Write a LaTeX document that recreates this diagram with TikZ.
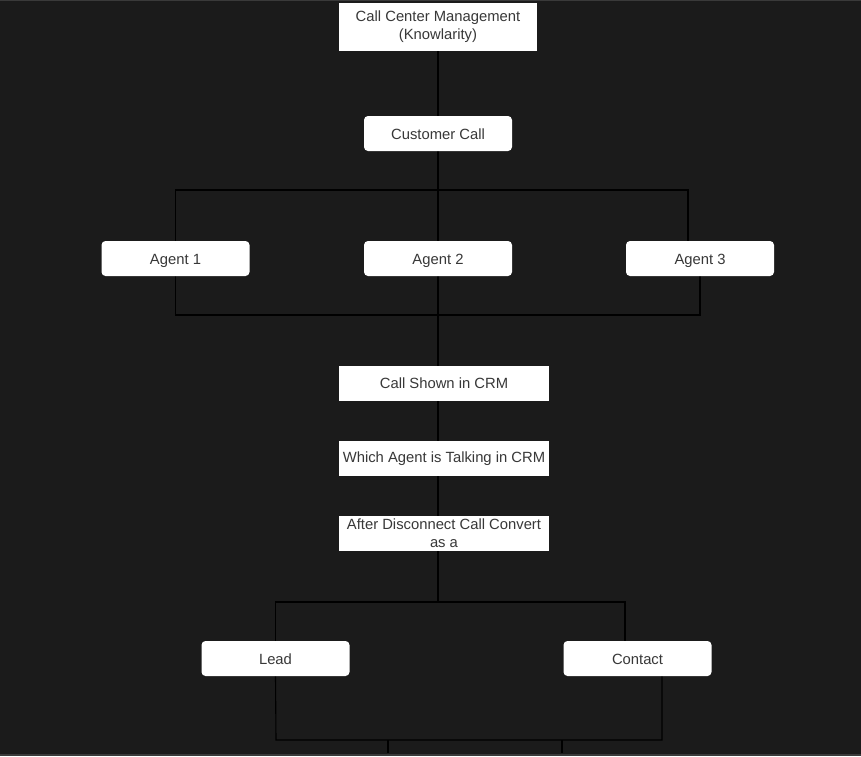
\documentclass[tikz,border=0pt]{standalone}
\usepackage{fontspec}
\setmainfont{Liberation Sans}
\usetikzlibrary{backgrounds}
\definecolor{canvas}{HTML}{1B1B1B}
\definecolor{edgegray}{HTML}{3A3A3A}
\definecolor{boxtext}{HTML}{383838}
\tikzset{
  flatbox/.style={fill=white, text=boxtext, align=center, inner sep=0pt,
    minimum width=#1, minimum height=35, font=\fontsize{14.8}{18}\selectfont},
  flatbox/.default=210,
  softbox/.style={flatbox=148, rounded corners=4, text height=12, text depth=1},
  wire/.style={black, line width=1.1pt}
}
\begin{document}
\begin{tikzpicture}[x=1pt, y=-1pt]
\useasboundingbox (0,0) rectangle (861,756);

% Top of the flow
\node[flatbox=198, minimum height=48] (ccm) at (438,27) {Call Center Management\\(Knowlarity)};
\node[softbox] (call) at (438,133.5) {Customer Call};

% Agents
\foreach \x/\n in {175.5/1, 438/2, 700/3} {
    \node[softbox] (agent\n) at (\x,258.5) {Agent \n};
}

% CRM steps
\node[flatbox] (shown) at (444,383.5) {Call Shown in CRM};
\node[flatbox] (talk) at (444,458.5) {Which Agent is Talking in CRM};
\node[flatbox] (conv) at (444,533.5) {After Disconnect Call Convert\\as a};

% Results
\node[softbox] (lead) at (275.5,658.5) {Lead};
\node[softbox] (contact) at (637.5,658.5) {Contact};

% Canvas and connectors behind the boxes
\coordinate (split) at (438,602);
\coordinate (foot) at (276,740);
\begin{scope}[on background layer]
\fill[canvas] (0,0) rectangle (861,756);
\draw[edgegray, line width=1.5pt] (0,0.5) -- (861,0.5);
\draw[edgegray, line width=2pt] (0,755) -- (861,755);
\draw[wire] (ccm.south) -- (call.north);
\draw[wire] (call.south) -- (split);
\draw[wire] (agent1.north) |- (438,190) -| (688,241);
\draw[wire] (agent1.south) |- (700,315) -- (agent3.south);
\draw[wire] (lead.north) |- (split) -| (625,641);
\draw[wire] (lead.south) -- (foot) -- (662,740) -- (662,676);
\foreach \x in {388, 562} {
    \draw[wire] (\x,740) -- (\x,753);
}
\end{scope}

\end{tikzpicture}
\end{document}
